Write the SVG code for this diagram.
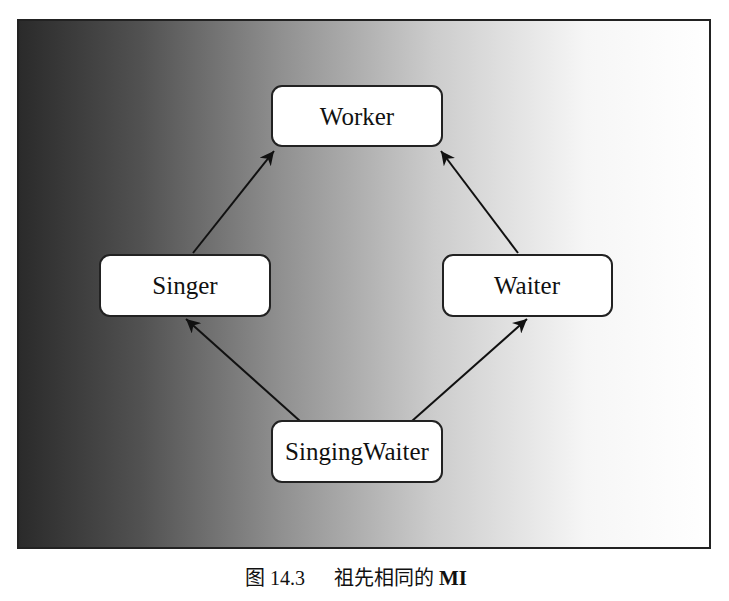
<svg xmlns="http://www.w3.org/2000/svg" width="729" height="601" viewBox="0 0 729 601">
<defs>
<linearGradient id="bg" x1="0" y1="0" x2="1" y2="0">
<stop offset="0" stop-color="#2a2a2a"/>
<stop offset="0.18" stop-color="#525252"/>
<stop offset="0.38" stop-color="#909090"/>
<stop offset="0.6" stop-color="#cccccc"/>
<stop offset="0.82" stop-color="#f6f6f6"/>
<stop offset="1" stop-color="#ffffff"/>
</linearGradient>
<marker id="ah" viewBox="0 0 10 10" refX="10" refY="5" markerWidth="14" markerHeight="14" markerUnits="userSpaceOnUse" orient="auto">
<path d="M0,0 L10,5 L0,10 L3,5 Z" fill="#111"/>
</marker>
</defs>
<style>
.node rect{fill:#fff;stroke:#222;stroke-width:2}
.node text{font-family:"Liberation Serif","Times New Roman",serif;font-size:25px;fill:#111;text-anchor:middle}
.edge{stroke:#111;stroke-width:2;fill:none;marker-end:url(#ah)}
.cap{font-family:"Liberation Serif","Noto Sans CJK SC",serif;font-size:20px;fill:#111}
</style>
<rect x="0" y="0" width="729" height="601" fill="#fff"/>
<rect x="18" y="20" width="692" height="528" fill="url(#bg)" stroke="#222" stroke-width="2"/>
<g id="edges">
<line class="edge" x1="193" y1="253" x2="274" y2="151"/>
<line class="edge" x1="518" y1="253" x2="441" y2="151"/>
<line class="edge" x1="300" y1="421" x2="186" y2="319"/>
<line class="edge" x1="412" y1="421" x2="527" y2="319"/>
</g>
<g id="worker" class="node"><rect x="272" y="86" width="170" height="60" rx="10"/><text x="357" y="125">Worker</text></g>
<g id="singer" class="node"><rect x="100" y="255" width="170" height="61" rx="10"/><text x="185" y="294">Singer</text></g>
<g id="waiter" class="node"><rect x="443" y="255" width="169" height="61" rx="10"/><text x="527" y="294">Waiter</text></g>
<g id="singingwaiter" class="node"><rect x="272" y="421" width="170" height="61" rx="10"/><text x="357" y="460">SingingWaiter</text></g>
<text class="cap" x="245" y="585">图 14.3<tspan x="334">祖先相同的 </tspan><tspan font-weight="bold" font-size="21">MI</tspan></text>
</svg>
